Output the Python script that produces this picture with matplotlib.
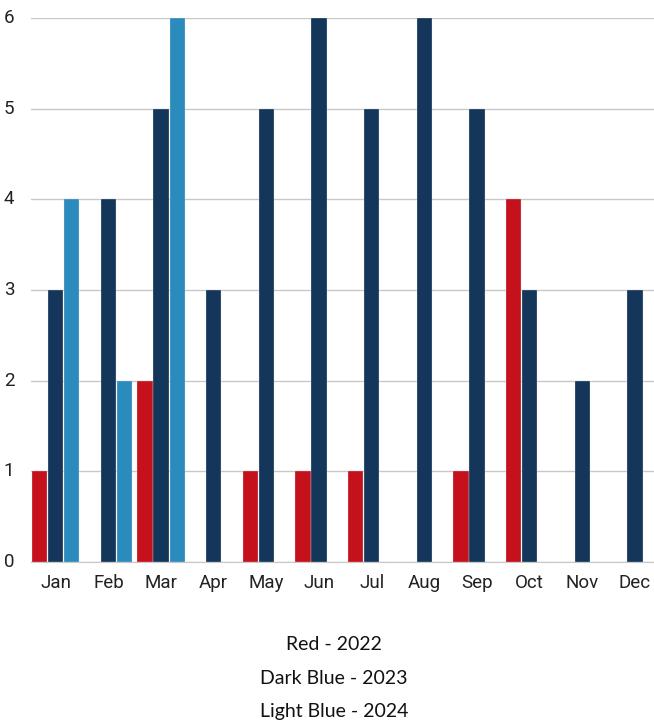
import numpy as np
import matplotlib.pyplot as plt

months = ['Jan', 'Feb', 'Mar', 'Apr', 'May', 'Jun', 'Jul', 'Aug', 'Sep', 'Oct', 'Nov', 'Dec']
red_2022 = [1, 0, 2, 0, 1, 1, 1, 0, 1, 4, 0, 0]
dark_2023 = [3, 4, 5, 3, 5, 6, 5, 6, 5, 3, 2, 3]
light_2024 = [4, 2, 6, 0, 0, 0, 0, 0, 0, 0, 0, 0]
legend_lines = ['Red - 2022', 'Dark Blue - 2023', 'Light Blue - 2024']

colors = ['#c4111c', '#14365a', '#2c8bbd']

fig = plt.figure(figsize=(6.54, 7.25), dpi=100)
ax = fig.add_axes([31/654, 1 - 562/725, 1 - 31/654, (562 - 18)/725])

x = np.arange(len(months))
w = 0.29
off = 0.305
for i, (vals, c) in enumerate(zip([red_2022, dark_2023, light_2024], colors)):
    ax.bar(x + (i - 1)*off, vals, width=w, color=c, edgecolor='#e8e8e8',
           linewidth=0.2, zorder=3)

ax.set_xlim(-0.47, 11.36)
ax.set_ylim(0, 6)
ax.set_yticks(range(7))
ax.yaxis.grid(True, color='#c8c8c8', linewidth=1, zorder=0)
ax.set_axisbelow(True)
for s in ['top', 'right', 'left']:
    ax.spines[s].set_visible(False)
ax.spines['bottom'].set_color('#c8c8c8')
ax.set_xticks(x)
ax.set_xticklabels(months)
ax.tick_params(axis='both', length=0, labelsize=13.5, colors='#222222')
ax.tick_params(axis='x', pad=9)
ax.tick_params(axis='y', pad=12)
for lab in ax.get_xticklabels() + ax.get_yticklabels():
    lab.set_family('Roboto')
for lab in ax.get_yticklabels():
    lab.set_verticalalignment('center')

for k, txt in enumerate(legend_lines):
    fig.text(334/654, 1 - (644 + 34*k)/725, txt, ha='center', va='center',
             fontsize=14, family='Lato', color='#111111')

fig.savefig('out.png', dpi=100)
